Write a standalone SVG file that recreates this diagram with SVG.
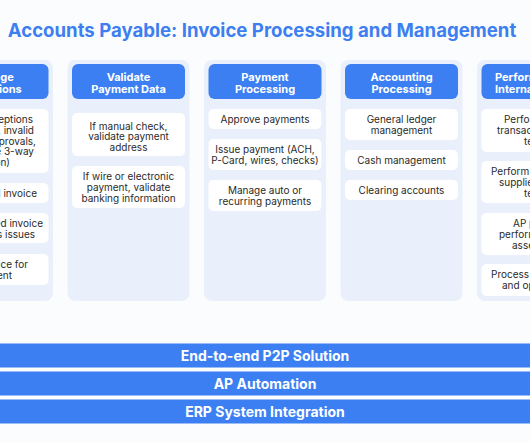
<svg xmlns="http://www.w3.org/2000/svg" width="530" height="442" viewBox="0 0 530 442">
<style>
.bg{fill:#fbfcfe}
.title{font-family:Inter,"Liberation Sans",sans-serif;font-weight:700;font-size:18.6px;fill:#3d7ff0}
.panel{fill:#e9f0fc}
.head{fill:#3b7ff2}
.ht{font-family:Inter,"Liberation Sans",sans-serif;font-weight:700;font-size:11px;fill:#ffffff;text-anchor:middle}
.card{fill:#ffffff}
.ct{font-family:Inter,"Liberation Sans",sans-serif;font-size:10px;fill:#2a2a2a;text-anchor:middle}
.ce{text-anchor:end}
.cs{text-anchor:start}
.bar{fill:#3b7ff2}
.bt{font-family:Inter,"Liberation Sans",sans-serif;font-weight:700;font-size:14px;fill:#ffffff;text-anchor:middle}
</style>
<rect class="bg" x="0" y="0" width="530" height="442"/>
<text class="title" x="262" y="36.5" text-anchor="middle">Accounts Payable: Invoice Processing and Management</text>

<g id="col-manage-exceptions">
<rect class="panel" x="-69" y="60" width="122" height="241" rx="8"/>
<rect class="head" x="-64.5" y="64" width="113" height="35" rx="6"/>
<text class="ht" x="-8" y="81">Manage</text>
<text class="ht" x="-8" y="93">Exceptions</text>
<rect class="card" x="-64.5" y="109" width="113" height="64" rx="5"/>
<text class="ct ce" x="33" y="123">Research exceptions</text>
<text class="ct ce" x="34" y="134">(duplicates, invalid</text>
<text class="ct ce" x="36" y="144.5">POs, missing approvals,</text>
<text class="ct ce" x="34" y="155">failure to complete 3-way</text>
<text class="ct ce" x="10" y="166">match validation)</text>
<rect class="card" x="-64.5" y="183" width="113" height="20" rx="5"/>
<text class="ct ce" x="37" y="196.5">Hold disputed invoice</text>
<rect class="card" x="-64.5" y="213" width="113" height="30" rx="5"/>
<text class="ct ce" x="43" y="226.5">Return rejected invoice</text>
<text class="ct ce" x="35" y="237.5">and address issues</text>
<rect class="card" x="-64.5" y="254" width="113" height="31" rx="5"/>
<text class="ct ce" x="28" y="267.5">Release invoice for</text>
<text class="ct ce" x="12" y="278.5">payment</text>
</g>

<g id="col-validate-payment-data">
<rect class="panel" x="67.5" y="60" width="122" height="241" rx="8"/>
<rect class="head" x="72" y="64" width="113" height="35" rx="6"/>
<text class="ht" x="128.5" y="81">Validate</text>
<text class="ht" x="128.5" y="93">Payment Data</text>
<rect class="card" x="72" y="113" width="113" height="43" rx="5"/>
<text class="ct" x="128.5" y="129.5">If manual check,</text>
<text class="ct" x="128.5" y="140">validate payment</text>
<text class="ct" x="128.5" y="150.5">address</text>
<rect class="card" x="72" y="166" width="113" height="42" rx="5"/>
<text class="ct" x="128.5" y="179.5">If wire or electronic</text>
<text class="ct" x="128.5" y="190.5">payment, validate</text>
<text class="ct" x="128.5" y="201.5">banking information</text>
</g>

<g id="col-payment-processing">
<rect class="panel" x="204" y="60" width="122" height="241" rx="8"/>
<rect class="head" x="208.5" y="64" width="113" height="35" rx="6"/>
<text class="ht" x="265" y="81">Payment</text>
<text class="ht" x="265" y="93">Processing</text>
<rect class="card" x="208.5" y="109" width="113" height="20" rx="5"/>
<text class="ct" x="265" y="122.5">Approve payments</text>
<rect class="card" x="208.5" y="139" width="113" height="31" rx="5"/>
<text class="ct" x="265" y="152.5">Issue payment (ACH,</text>
<text class="ct" x="265" y="163.5">P-Card, wires, checks)</text>
<rect class="card" x="208.5" y="180" width="113" height="31" rx="5"/>
<text class="ct" x="265" y="193.5">Manage auto or</text>
<text class="ct" x="265" y="204.5">recurring payments</text>
</g>

<g id="col-accounting-processing">
<rect class="panel" x="340.5" y="60" width="122" height="241" rx="8"/>
<rect class="head" x="345" y="64" width="113" height="35" rx="6"/>
<text class="ht" x="401.5" y="81">Accounting</text>
<text class="ht" x="401.5" y="93">Processing</text>
<rect class="card" x="345" y="109" width="113" height="31" rx="5"/>
<text class="ct" x="401.5" y="122.5">General ledger</text>
<text class="ct" x="401.5" y="133.5">management</text>
<rect class="card" x="345" y="150" width="113" height="20" rx="5"/>
<text class="ct" x="401.5" y="163.5">Cash management</text>
<rect class="card" x="345" y="180" width="113" height="20" rx="5"/>
<text class="ct" x="401.5" y="193.5">Clearing accounts</text>
</g>

<g id="col-perform-internal-controls">
<rect class="panel" x="477" y="60" width="122" height="241" rx="8"/>
<rect class="head" x="481.5" y="64" width="113" height="35" rx="6"/>
<text class="ht cs" x="495" y="81">Performing</text>
<text class="ht cs" x="495" y="93">Internal Controls</text>
<rect class="card" x="481.5" y="109" width="113" height="43" rx="5"/>
<text class="ct cs" x="504" y="122.5">Perform sample</text>
<text class="ct cs" x="497" y="133.5">transaction-level</text>
<text class="ct cs" x="524" y="144.5">tests</text>
<rect class="card" x="481.5" y="161" width="113" height="42" rx="5"/>
<text class="ct cs" x="491" y="175">Perform periodic</text>
<text class="ct cs" x="499" y="186">supplier master</text>
<text class="ct cs" x="524" y="197">tests</text>
<rect class="card" x="481.5" y="213" width="113" height="42" rx="5"/>
<text class="ct cs" x="513" y="226.5">AP process</text>
<text class="ct cs" x="499" y="237.5">performance</text>
<text class="ct cs" x="512" y="248.5">assessment</text>
<rect class="card" x="481.5" y="264" width="113" height="32" rx="5"/>
<text class="ct cs" x="491" y="278">Process improvement</text>
<text class="ct cs" x="502" y="289">and optimization</text>
</g>

<g id="bar-p2p">
<rect class="bar" x="0" y="343.5" width="530" height="24"/>
<text class="bt" x="265" y="360.5">End-to-end P2P Solution</text>
</g>
<g id="bar-ap-automation">
<rect class="bar" x="0" y="371.5" width="530" height="24"/>
<text class="bt" x="265" y="388.5">AP Automation</text>
</g>
<g id="bar-erp">
<rect class="bar" x="0" y="399.5" width="530" height="24"/>
<text class="bt" x="265" y="416.5">ERP System Integration</text>
</g>
<g id="connectors"/>
</svg>
